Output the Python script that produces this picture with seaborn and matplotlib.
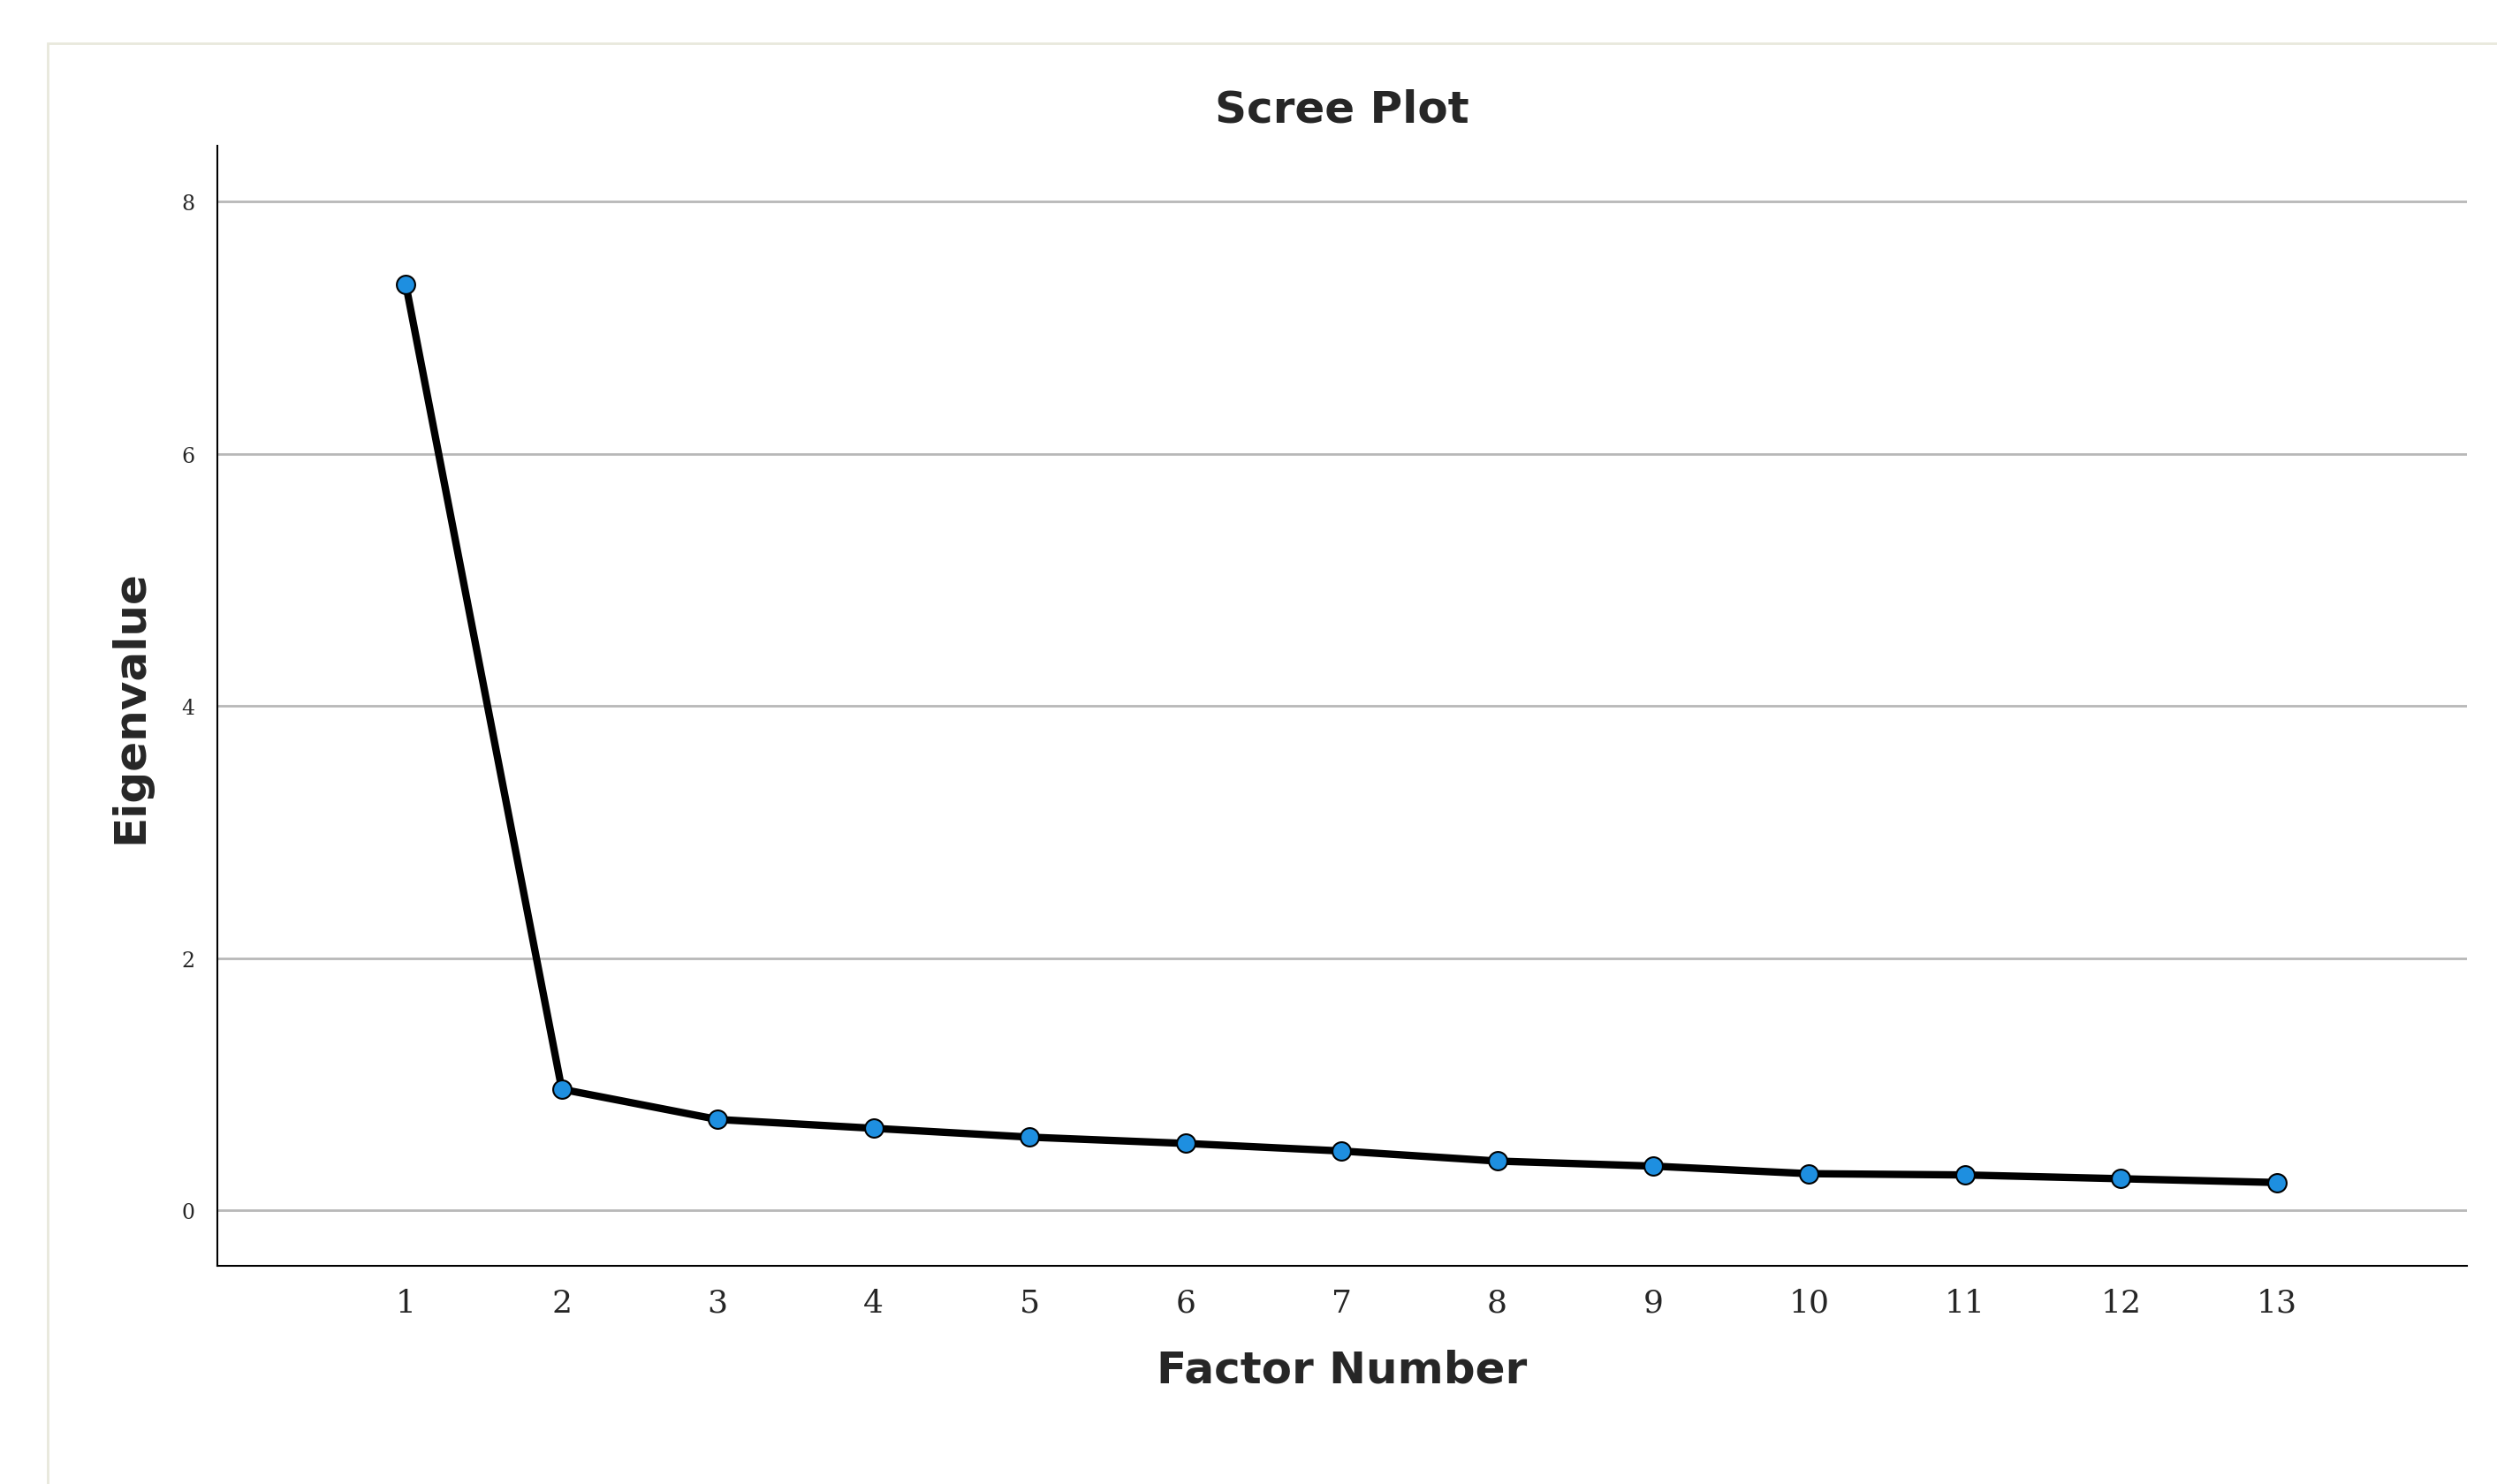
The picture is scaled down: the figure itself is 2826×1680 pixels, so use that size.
import matplotlib
matplotlib.use("Agg")
import matplotlib.pyplot as plt
import seaborn as sns
import pandas as pd
from matplotlib.patches import Rectangle

factors = list(range(1, 14))
eigenvalues = [7.34, 0.96, 0.72, 0.65, 0.58, 0.53, 0.47, 0.39, 0.35, 0.29, 0.28, 0.25, 0.22]
y_ticks = [0, 2, 4, 6, 8]

sns.set_style("white")
df = pd.DataFrame({"Factor Number": factors, "Eigenvalue": eigenvalues})

fig = plt.figure(figsize=(28.26, 16.81), dpi=100)
fig.patches.append(Rectangle((0.019, -0.01), 1.0, 0.98, transform=fig.transFigure,
                             fill=False, edgecolor="#e8e8dc", linewidth=2))
ax = fig.add_axes([0.087, 0.147, 0.901, 0.754])
sns.lineplot(data=df, x="Factor Number", y="Eigenvalue", ax=ax, color="black",
             linewidth=6, marker="o", markersize=15, markerfacecolor="#1e8fe0",
             markeredgecolor="black", markeredgewidth=1.5)
ax.set_xlim(-0.21, 14.22)
ax.set_ylim(-0.44, 8.44)
ax.set_xticks(factors)
ax.set_yticks(y_ticks)
ax.yaxis.grid(True, color="#b8b8b8", linewidth=2)
ax.set_axisbelow(True)
for s in ["top", "right"]:
    ax.spines[s].set_visible(False)
for s in ["left", "bottom"]:
    ax.spines[s].set_color("black")
    ax.spines[s].set_linewidth(1.5)
ax.tick_params(axis="x", labelsize=26, length=0, pad=18)
ax.tick_params(axis="y", labelsize=17, length=0, pad=18)
for lab in ax.get_xticklabels() + ax.get_yticklabels():
    lab.set_family("DejaVu Serif")
ax.set_xlabel("Factor Number", fontsize=36, fontweight="bold", labelpad=25)
ax.set_ylabel("Eigenvalue", fontsize=36, fontweight="bold", labelpad=25)
ax.set_title("Scree Plot", fontsize=36, fontweight="bold", pad=20)
fig.savefig("out.png", dpi=100)
